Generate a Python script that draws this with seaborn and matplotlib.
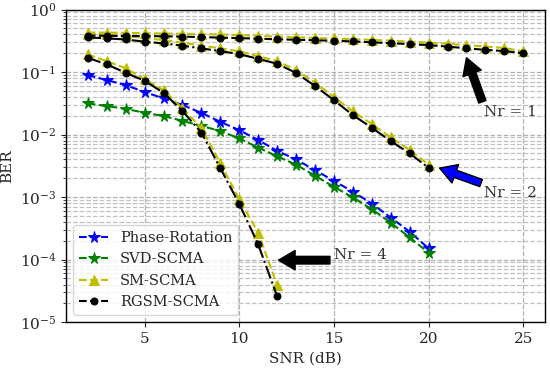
import numpy as np
import pandas as pd
import matplotlib
matplotlib.use("Agg")
import matplotlib.pyplot as plt
import seaborn as sns

# SNR grids
snr_20 = list(range(2, 21))
snr_12 = list(range(2, 13))
snr_25 = list(range(2, 26))

# BER curves
phase_rotation = [0.0895, 0.0745, 0.062, 0.048, 0.038, 0.0297, 0.0223, 0.016, 0.0118, 0.0082,
                  0.0055, 0.004, 0.0027, 0.00182, 0.00122, 0.00079, 0.00047, 0.00028, 0.000151]
svd_scma = [0.0315, 0.0286, 0.0259, 0.0223, 0.0198, 0.0166, 0.0138, 0.0114, 0.0087, 0.0062,
            0.0045, 0.0033, 0.0022, 0.00146, 0.00099, 0.00064, 0.00039, 0.000226, 0.000129]

sm_nr1 = [0.43, 0.428, 0.425, 0.42, 0.415, 0.41, 0.405, 0.40, 0.39, 0.38, 0.37, 0.36,
          0.352, 0.345, 0.337, 0.328, 0.318, 0.308, 0.296, 0.283, 0.27, 0.256, 0.243, 0.215]
rgsm_nr1 = [0.384, 0.381, 0.378, 0.377, 0.374, 0.370, 0.363, 0.356, 0.350, 0.342, 0.335, 0.329,
            0.323, 0.317, 0.310, 0.300, 0.289, 0.281, 0.270, 0.256, 0.240, 0.227, 0.217, 0.201]

sm_nr2 = [0.41, 0.40, 0.38, 0.35, 0.325, 0.295, 0.265, 0.24, 0.215, 0.18,
          0.15, 0.108, 0.068, 0.040, 0.0235, 0.0148, 0.0090, 0.0057, 0.0033]
rgsm_nr2 = [0.359, 0.346, 0.333, 0.306, 0.288, 0.265, 0.239, 0.217, 0.194, 0.163,
            0.136, 0.097, 0.060, 0.0356, 0.0205, 0.0129, 0.00787, 0.0050, 0.00294]

sm_nr4 = [0.192, 0.15, 0.115, 0.077, 0.0515, 0.0262, 0.0128, 0.0035, 0.00092, 0.00027, 3.9e-5]
rgsm_nr4 = [0.169, 0.133, 0.0975, 0.0726, 0.0467, 0.0238, 0.0108, 0.0029, 0.00078, 0.000175, 2.6e-5]

sns.set_style("ticks")
plt.rcParams['font.family'] = ['DejaVu Serif']
plt.rcParams['mathtext.fontset'] = 'dejavuserif'
plt.rcParams['font.size'] = 10.5

fig, ax = plt.subplots(figsize=(5.5, 3.69), dpi=100)
fig.subplots_adjust(left=0.12, right=0.991, bottom=0.127, top=0.974)

def draw(x, y, **kw):
    sns.lineplot(x=x, y=y, ax=ax, estimator=None, sort=False, **kw)

draw(snr_20, phase_rotation, color='b', linestyle='--', marker='*', markersize=8.5,
     markeredgecolor='b', label='Phase-Rotation')
draw(snr_20, svd_scma, color='g', linestyle='--', marker='*', markersize=8.5,
     markeredgecolor='g', label='SVD-SCMA')

yel = (0.75, 0.75, 0)
for i, (xs, ys) in enumerate([(snr_25, sm_nr1), (snr_20, sm_nr2), (snr_12, sm_nr4)]):
    draw(xs, ys, color=yel, linestyle='--', marker='^', markersize=7.5,
         markeredgecolor=yel, label='SM-SCMA' if i == 0 else None)

for i, (xs, ys, ls) in enumerate([(snr_25, rgsm_nr1, '--'), (snr_20, rgsm_nr2, '-.'),
                                  (snr_12, rgsm_nr4, '-.')]):
    draw(xs, ys, color='k', linestyle=ls, marker='.', markersize=10,
         markeredgecolor='k', label='RGSM-SCMA' if i == 0 else None)

ax.set_yscale('log')
ax.set_ylim(1e-5, 1)
ax.set_xticks([5, 10, 15, 20, 25])
ax.tick_params(labelsize=11)
ax.set_xlabel('SNR (dB)', fontsize=11)
ax.set_ylabel('BER', fontsize=11)
ax.grid(True, which='major', linestyle='--', color='#b0b0b0', linewidth=0.9)
ax.grid(True, which='minor', axis='y', linestyle='--', color='#c0c0c0', linewidth=0.9)
for s in ax.spines.values():
    s.set_color('black')
    s.set_linewidth(1.0)

# annotations
arrow = dict(width=5.5, headwidth=14, headlength=12, shrink=0)
ax.annotate('', xy=(22.0, 0.17), xytext=(22.84, 0.0335),
            arrowprops=dict(facecolor='black', edgecolor='black', **arrow))
ax.text(22.95, 0.0232, 'Nr = 1', va='center', ha='left', color='#333333', fontsize=11)
ax.annotate('', xy=(20.58, 0.00291), xytext=(22.77, 0.00168),
            arrowprops=dict(facecolor='blue', edgecolor='black', **arrow))
ax.text(22.95, 0.00116, 'Nr = 2', va='center', ha='left', color='#333333', fontsize=11)
ax.annotate('', xy=(12.07, 9.8e-5), xytext=(14.79, 9.8e-5),
            arrowprops=dict(facecolor='black', edgecolor='black', **arrow))
ax.text(15.0, 1.18e-4, 'Nr = 4', va='center', ha='left', color='#333333', fontsize=11)

ax.legend(loc='lower left', frameon=True, fontsize=10.5)

fig.savefig('out.png', dpi=100)
